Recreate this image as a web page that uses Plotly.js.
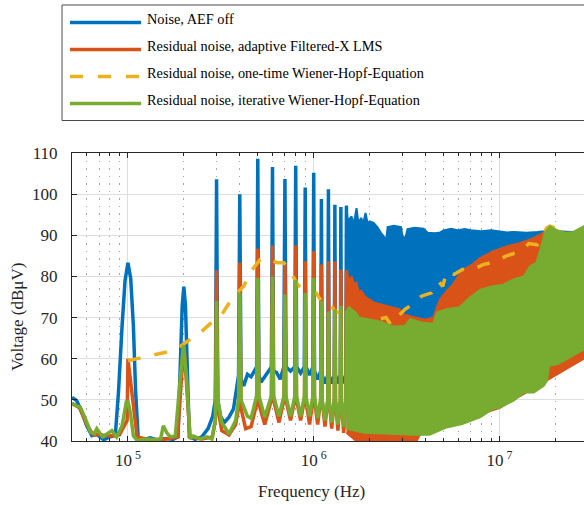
<!DOCTYPE html>
<html><head><meta charset="utf-8">
<script src="https://cdn.plot.ly/plotly-3.0.1.min.js"></script>
<style>html,body{margin:0;padding:0;background:#fff}#chart{width:584px;height:505px}</style>
</head><body><div id="chart"></div>
<script>
// ---------------- DATA ----------------
const seriesNames = [
  'Noise, AEF off',
  'Residual noise, adaptive Filtered-X LMS',
  'Residual noise, one-time Wiener-Hopf-Equation',
  'Residual noise, iterative Wiener-Hopf-Equation'
];
const seriesColors = ['#0072BD', '#D95319', '#EDB120', '#77AC30'];

// Blue: Noise, AEF off — harmonic region (Hz, dBµV)
const blueLineF = [5e4,5.3e4,5.65e4,6.0e4,6.4e4,6.8e4,7.4e4,8.0e4,8.55e4,8.9e4,9.3e4,9.65e4,1.0e5,1.035e5,1.07e5,1.1e5,1.135e5,1.2e5,1.32e5,1.45e5,1.6e5,1.75e5,1.86e5,1.92e5,1.96e5,2.0e5,2.04e5,2.08e5,2.14e5,2.3e5,2.5e5,2.7e5,2.86e5,2.955e5,3.0e5,3.045e5,3.15e5,3.3e5,3.5e5,3.7e5,3.85e5,3.94e5,4.0e5,4.06e5,4.2e5,4.4e5,4.6e5,4.8e5,4.93e5,5.0e5,5.07e5,5.2e5,5.45e5,5.75e5,5.92e5,6.0e5,6.08e5,6.3e5,6.6e5,6.9e5,7.0e5,7.1e5,7.5e5,7.9e5,8.0e5,8.1e5,8.5e5,8.9e5,9.0e5,9.1e5,9.5e5,9.9e5,1.0e6,1.01e6,1.05e6,1.09e6,1.1e6,1.11e6,1.15e6,1.19e6,1.2e6,1.21e6,1.25e6,1.29e6,1.3e6,1.31e6,1.35e6,1.39e6,1.4e6,1.41e6,1.45e6,1.49e6,1.5e6];
const blueLineV = [50.6,49.8,47,43.7,41.3,41.6,40.3,41,41.3,52,68,79,83.3,79.5,68,52,41,40.3,40.8,40.2,40.6,40.4,41,60,73,77.5,73,60,41,40.4,41,43,46,50,103.6,50,46,44.5,45.8,47.8,52.6,56,100,55,53.4,56.2,55.6,57,58,108.6,56,54.3,55.7,57.5,58,106.6,57,56.7,55,58,103.7,58,57,58,106.9,58,56.5,58,101.6,58,56,58,105.2,57,55,57,98.8,56,54,56,101.2,56,54,56,97.4,56,54,56,96.9,56,54,56,97.2];
// Blue: dense band above 1.5 MHz (upper / lower envelope)
const blueUpF = [1.5e6,1.53e6,1.56e6,1.6e6,1.64e6,1.67e6,1.7e6,1.74e6,1.8e6,1.85e6,1.9e6,1.95e6,2.0e6,2.1e6,2.2e6,2.3e6,2.4e6,2.45e6,2.5e6,2.7e6,2.95e6,3.0e6,3.1e6,3.2e6,3.5e6,3.9e6,4.1e6,4.5e6,4.8e6,5.0e6,5.5e6,6e6,6.5e6,7e6,8e6,9e6,1e7,1.1e7,1.2e7,1.4e7,1.6e7,1.75e7,2e7,2.5e7,2.85e7];
const blueUpV = [97.2,93,94,94.6,92.5,95,96.6,93,94.2,93,95.4,93,93.4,93,92,90.6,89.5,88.5,92,92.3,92,90,89,91.5,91.8,91.6,90.6,90.5,90.7,91.2,91.6,91.2,91.5,91.2,91,91.2,91,90.7,90.8,90.6,90.8,91,91,90.8,91];
const blueLoF = [1.5e6,2e6,5e6,1e7,2.85e7];
const blueLoV = [52,50,55,60,70];

// Red: adaptive Filtered-X LMS
const redLineF = [5e4,5.5e4,6e4,6.5e4,7e4,8e4,9e4,9.9e4,1.0e5,1.12e5,1.3e5,1.6e5,1.85e5,1.92e5,2.0e5,2.08e5,2.16e5,2.5e5,2.85e5,2.955e5,3.0e5,3.045e5,3.2e5,3.5e5,3.8e5,3.94e5,4.0e5,4.06e5,4.3e5,4.6e5,4.93e5,5.0e5,5.07e5,5.45e5,5.92e5,6.0e5,6.08e5,6.5e5,6.92e5,7.0e5,7.08e5,7.5e5,7.92e5,8.0e5,8.08e5,8.5e5,8.92e5,9.0e5,9.08e5,9.5e5,9.9e5,1.0e6,1.01e6,1.05e6,1.09e6,1.1e6,1.11e6,1.15e6,1.19e6,1.2e6,1.21e6,1.25e6,1.29e6,1.3e6,1.31e6,1.35e6,1.39e6,1.4e6,1.41e6,1.45e6,1.49e6,1.5e6];
const redLineV = [49.2,48,44,41.5,41.5,41.2,41.5,45,60,41,40.3,40.5,41,52,63.8,52,41,40.5,41,45,81.5,48,42.5,41.5,44,48,83.4,48,43,43.5,49,86.7,49,44,50,87.5,50,44.5,50,83,50,45,50,87.5,50,45,50,83.7,50,44,50,86.1,50,44,50,82.9,50,43.5,50,83.7,50,43,50,83.7,50,42.5,50,81.7,50,42,50,81.5];
const redUpF = [1.5e6,1.55e6,1.6e6,1.65e6,1.7e6,1.75e6,1.8e6,1.9e6,2.0e6,2.1e6,2.3e6,2.6e6,2.9e6,3.0e6,3.5e6,4.0e6,4.4e6,4.6e6,4.8e6,5.2e6,5.6e6,6.1e6,6.6e6,7.2e6,7.9e6,9.2e6,1.09e7,1.28e7,1.45e7,1.65e7,1.75e7,2e7,2.85e7];
const redUpV = [81.5,79,80,78,78.5,76,76.5,75,74.4,73.7,73.2,72.5,72,70.8,70,69.5,70,72.5,74.5,76.5,78,80.5,82,83,84.5,86.1,87.3,88.1,88.9,90.1,90.8,91,90];
const redLoF = [1.5e6,1.6e6,1.8e6,3.5e6,3.7e6,4.1e6,5.2e6,1e7,2.85e7];
const redLoV = [42,41,39,39,41.3,43,44,48,60];

// Yellow: one-time Wiener-Hopf-Equation (dashed)
const yellowF = [1.0e5,1.19e5,1.46e5,1.8e5,2.1e5,2.45e5,2.88e5,3.25e5,3.7e5,4.2e5,4.6e5,5.15e5,5.6e5,6.35e5,6.9e5,7.3e5,8.2e5,9.1e5,1.03e6,1.1e6,1.19e6,1.3e6,1.5e6,1.8e6,2.2e6,2.45e6,2.6e6,2.75e6,3.1e6,3.4e6,3.8e6,4.3e6,4.7e6,4.95e6,5.2e6,5.7e6,6.3e6,7.1e6,8.1e6,9.6e6,1.09e7,1.28e7,1.44e7,1.6e7,1.68e7,1.8e7,1.87e7,1.99e7,2.24e7];
const yellowV = [59.5,60.3,61.3,62.1,64.3,66.3,69.2,71.2,75.2,77.6,81.3,84.1,84.5,83.3,83.3,82.1,78,76,76,74,74,71.6,70.5,69,69.5,70,68.3,69.6,72,73.2,75.2,76,78.8,77.6,81.2,80.5,81.7,81.5,82.8,83.7,85,86,88,87.7,89.7,91.8,92.2,91.8,91.4];

// Green: iterative Wiener-Hopf-Equation
const greenLineF = [5e4,5.55e4,5.9e4,6.3e4,6.6e4,6.8e4,7.3e4,7.7e4,8.2e4,8.7e4,9.3e4,9.8e4,1.0e5,1.03e5,1.07e5,1.12e5,1.25e5,1.43e5,1.5e5,1.55e5,1.62e5,1.69e5,1.8e5,1.91e5,1.99e5,2.07e5,2.16e5,2.25e5,2.45e5,2.66e5,2.83e5,2.955e5,3.0e5,3.045e5,3.2e5,3.5e5,3.8e5,3.94e5,4.0e5,4.06e5,4.4e5,4.6e5,4.93e5,5.0e5,5.07e5,5.45e5,5.92e5,6.0e5,6.08e5,6.5e5,6.92e5,7.0e5,7.08e5,7.5e5,7.92e5,8.0e5,8.08e5,8.5e5,8.92e5,9.0e5,9.08e5,9.5e5,9.9e5,1.0e6,1.01e6,1.05e6,1.09e6,1.1e6,1.11e6,1.15e6,1.19e6,1.2e6,1.21e6,1.25e6,1.29e6,1.3e6,1.31e6,1.35e6,1.39e6,1.4e6,1.41e6,1.45e6,1.49e6,1.5e6];
const greenLineV = [49,48.2,45.4,42.1,41.8,43,41,41.8,42.5,41,43.7,49.5,49.6,47,41.2,40.2,40.5,40.3,40.5,43.7,42,41,41.3,55,63.3,55,40.5,41.2,40.5,41,40.5,45,74,50,44.5,41.7,45,50,76,50,46,45.5,51,79.7,51,45.8,51,80,51,46,51,75.6,51,46,51,79.1,51,46,51,76,51,46,51,79.7,51,45.5,50,74,50,45,50,71.5,50,44.5,50,72,50,44,50,72.8,50,43.5,50,71.6];
const greenUpF = [1.5e6,1.55e6,1.6e6,1.7e6,1.75e6,2.0e6,2.3e6,2.45e6,2.7e6,3.1e6,3.3e6,3.8e6,4.4e6,4.6e6,5.2e6,6.1e6,6.9e6,7.9e6,9.2e6,1.05e7,1.19e7,1.35e7,1.46e7,1.58e7,1.68e7,1.75e7,1.87e7,1.99e7,2.24e7,2.5e7,2.85e7];
const greenUpV = [71.6,72.5,72,71,70,69.5,69,68.5,67.8,68,69.6,68.8,68.5,71.2,72,72.5,74.8,76.8,77.6,78,79.3,80,82.5,83.3,87.3,90.6,92.2,91.4,90.6,90.8,92.2];
const greenLoF = [1.5e6,1.87e6,2.5e6,3.5e6,4.2e6,5.2e6,6.3e6,7.9e6,9.2e6,1.0e7,1.19e7,1.35e7,1.53e7,1.73e7,1.8e7,1.85e7,2.06e7,2.24e7,2.65e7,2.85e7];
const greenLoV = [43,42,41.7,41.5,41.5,43.3,44.1,45.8,47.8,48.1,49.8,51.8,51.8,53.4,54.6,58.3,58.7,59.5,61.5,62.3];

// Axis labels / ticks
const xTitle = 'Frequency (Hz)';
const yTitle = 'Voltage (dBμV)';
const xTickVals = [1e5, 1e6, 1e7];
const xTickText = ['10<sup> 5</sup>', '10<sup> 6</sup>', '10<sup> 7</sup>'];
const yTickVals = [40, 50, 60, 70, 80, 90, 100, 110];

// ---------------- FIGURE ----------------
const W = 584, H = 505, L = 72, R = 0, T = 153, B = 64;
const pw = W - L - R, ph = H - T - B;
const px = x => (x - L) / pw;          // pixel -> paper x
const py = y => (H - B - y) / ph;      // pixel -> paper y

function band(upF, upV, loF, loV) {
  return { x: upF.concat(loF.slice().reverse()), y: upV.concat(loV.slice().reverse()) };
}
function lineTrace(x, y, c) {
  return { type: 'scatter', mode: 'lines', x: x, y: y, line: { color: c, width: 3.5 }, showlegend: false, hoverinfo: 'skip' };
}
function bandTrace(b, c) {
  return { type: 'scatter', mode: 'lines', x: b.x, y: b.y, fill: 'toself', fillcolor: c, line: { color: c, width: 2 }, showlegend: false, hoverinfo: 'skip' };
}

const traces = [
  lineTrace(blueLineF, blueLineV, seriesColors[0]),
  bandTrace(band(blueUpF, blueUpV, blueLoF, blueLoV), seriesColors[0]),
  lineTrace(redLineF, redLineV, seriesColors[1]),
  bandTrace(band(redUpF, redUpV, redLoF, redLoV), seriesColors[1]),
  { type: 'scatter', mode: 'lines', x: yellowF, y: yellowV, line: { color: seriesColors[2], width: 3.5, dash: '13px,14px' }, showlegend: false, hoverinfo: 'skip' },
  lineTrace(greenLineF, greenLineV, seriesColors[3]),
  bandTrace(band(greenUpF, greenUpV, greenLoF, greenLoV), seriesColors[3])
];

// minor tick positions (axis decoration)
const minorVals = [];
for (let d = 4; d <= 7; d++) for (let m = 2; m <= 9; m++) minorVals.push(m * Math.pow(10, d));

const fontFam = 'Liberation Serif, Times New Roman, serif';
const axCol = '#262626';

const shapes = [
  { type: 'rect', xref: 'paper', yref: 'paper', x0: px(62), x1: px(600), y0: py(120.5), y1: py(5), line: { color: '#4a4a4a', width: 1 }, fillcolor: 'rgba(255,255,255,1)', layer: 'above' }
];
const annotations = [];
const rowY = [22.5, 49.5, 76.5, 103.5];
seriesNames.forEach((name, i) => {
  shapes.push({ type: 'line', xref: 'paper', yref: 'paper', x0: px(70), x1: px(141), y0: py(rowY[i]), y1: py(rowY[i]),
    line: { color: seriesColors[i], width: 3.5, dash: i === 2 ? '13px,15px' : 'solid' }, layer: 'above' });
  annotations.push({ xref: 'paper', yref: 'paper', x: px(145), y: py(rowY[i] - 3), xanchor: 'left', yanchor: 'middle',
    text: name, showarrow: false, font: { family: fontFam, size: 14.3, color: '#000' } });
});
annotations.push({ xref: 'paper', yref: 'paper', x: px(311.5), y: py(491), xanchor: 'center', yanchor: 'middle',
  text: xTitle, showarrow: false, font: { family: fontFam, size: 17, color: axCol } });
annotations.push({ xref: 'paper', yref: 'paper', x: px(17.5), y: py(317.5), xanchor: 'center', yanchor: 'middle', textangle: -90,
  text: yTitle, showarrow: false, font: { family: fontFam, size: 17, color: axCol } });

const layout = {
  width: W, height: H,
  margin: { l: L, r: R, t: T, b: B, pad: 0 },
  paper_bgcolor: '#fff', plot_bgcolor: '#fff',
  showlegend: false,
  xaxis: {
    type: 'log', range: [Math.log10(5e4), Math.log10(2.85e7)],
    tickmode: 'array', tickvals: xTickVals, ticktext: xTickText,
    ticks: 'inside', ticklen: 5, tickwidth: 1, tickcolor: axCol,
    showline: true, linecolor: axCol, linewidth: 1, mirror: 'ticks',
    showgrid: true, gridcolor: '#dedede', gridwidth: 1,
    zeroline: false,
    tickfont: { family: fontFam, size: 17, color: axCol },
    ticklabelstandoff: 4,
    minor: { tickmode: 'array', tickvals: minorVals, ticks: 'inside', ticklen: 3, tickcolor: axCol,
             showgrid: true, gridcolor: '#a8a8a8', griddash: '1.5px,6px', gridwidth: 1 }
  },
  yaxis: {
    range: [40, 110], tickmode: 'array', tickvals: yTickVals,
    ticks: 'inside', ticklen: 5, tickwidth: 1, tickcolor: axCol,
    showline: true, linecolor: axCol, linewidth: 1, mirror: false,
    showgrid: true, gridcolor: '#dedede', gridwidth: 1, zeroline: false,
    tickfont: { family: fontFam, size: 17, color: axCol },
    ticklabelstandoff: 10
  },
  shapes: shapes,
  annotations: annotations
};

Plotly.newPlot('chart', traces, layout, { displayModeBar: false, staticPlot: true });
</script>
</body></html>
